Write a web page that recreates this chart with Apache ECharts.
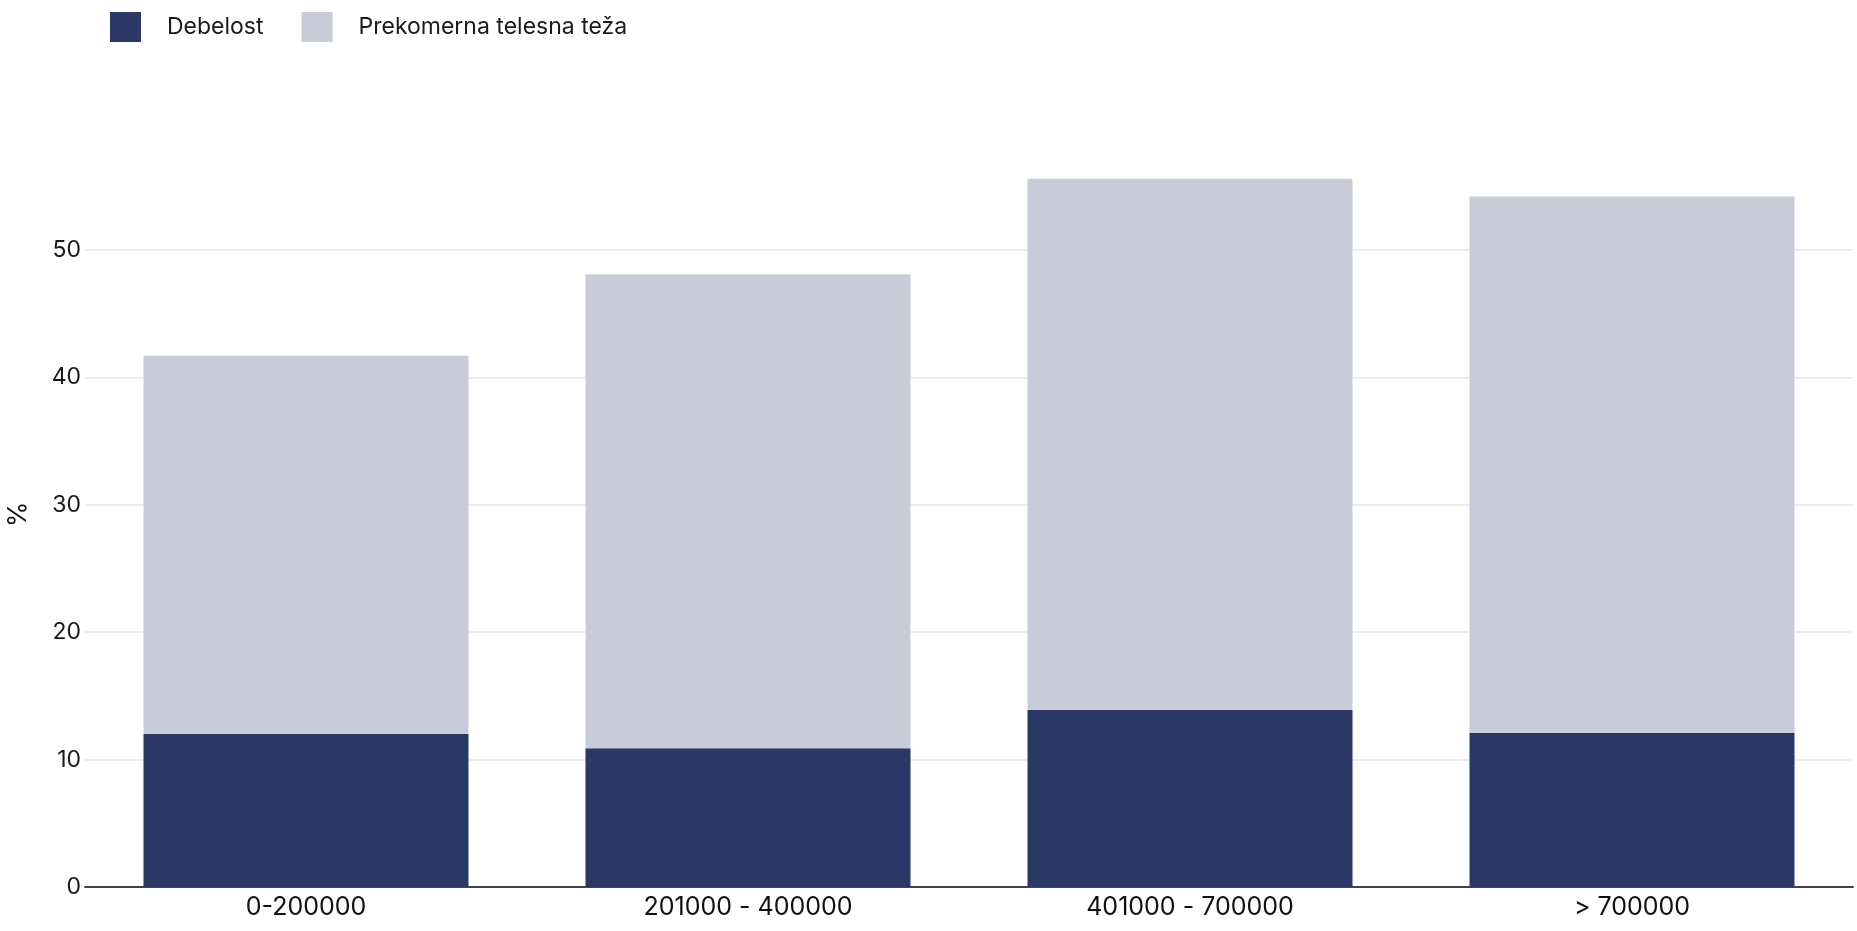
<!DOCTYPE html>
<html>
<head>
<meta charset="utf-8">
<script src="https://cdn.jsdelivr.net/npm/echarts@6/dist/echarts.min.js"></script>
<style>
html,body{margin:0;padding:0;background:#fff;}
#chart{width:1857px;height:931px;}
</style>
</head>
<body>
<div id="chart"></div>
<script>
const categories = ['0-200000', '201000 - 400000', '401000 - 700000', '> 700000'];
const debelost = [12.0, 10.9, 13.9, 12.1];
const prekomerna = [29.7, 37.2, 41.7, 42.1];
const seriesNames = ['Debelost', 'Prekomerna telesna teža'];
const yTicks = [0, 10, 20, 30, 40, 50];

const FONT = 'Inter';
const chart = echarts.init(document.getElementById('chart'));
chart.setOption({
  animation: false,
  textStyle: { fontFamily: FONT },
  legend: {
    left: 105,
    top: 7,
    itemWidth: 31,
    itemHeight: 30,
    itemGap: 38,
    icon: 'rect',
    textStyle: { fontSize: 23, color: '#1a1a1a', fontFamily: FONT, padding: [0, 0, 0, 21] },
    data: seriesNames
  },
  grid: { left: 85, right: 4, top: 141.7, bottom: 44, containLabel: false, outerBoundsMode: 'none' },
  xAxis: {
    type: 'category',
    data: categories,
    axisLine: { show: true, lineStyle: { color: '#444', width: 2 } },
    axisTick: { show: false },
    axisLabel: { fontSize: 25, color: '#111', margin: 8, fontFamily: FONT }
  },
  yAxis: {
    type: 'value',
    min: 0,
    max: 58.5,
    interval: 10,
    name: '%',
    nameLocation: 'middle',
    nameGap: 54,
    nameTextStyle: { fontSize: 26, color: '#111', fontFamily: FONT },
    axisLine: { show: false },
    axisTick: { show: false },
    axisLabel: {
      fontSize: 23, color: '#1a1a1a', margin: 4, fontFamily: FONT,
      formatter: function (v) { return yTicks.indexOf(v) >= 0 ? String(v) : ''; }
    },
    splitLine: {
      show: true,
      lineStyle: {
        color: ['#ececec', '#ececec', '#ececec', '#ececec', '#ececec', '#ececec', 'rgba(0,0,0,0)'],
        width: 2
      }
    }
  },
  series: [
    {
      name: seriesNames[0],
      type: 'bar',
      stack: 'total',
      barWidth: 325,
      data: debelost,
      itemStyle: { color: '#2b3764' }
    },
    {
      name: seriesNames[1],
      type: 'bar',
      stack: 'total',
      barWidth: 325,
      data: prekomerna,
      itemStyle: { color: '#c9ccd8' }
    }
  ]
});
</script>
</body>
</html>
